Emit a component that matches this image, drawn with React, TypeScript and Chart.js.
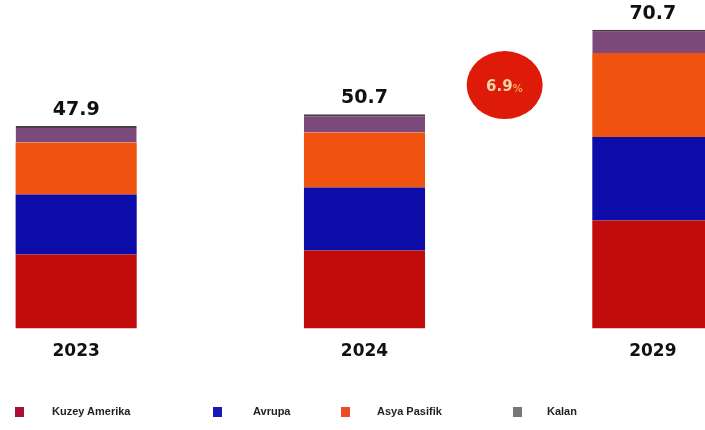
import React, { useEffect, useRef } from "react";
import { Chart, registerables } from "chart.js";

Chart.register(...registerables);

const categories = ["2023", "2024", "2029"];
const kuzeyAmerika = [17.5, 18.5, 25.6];
const avrupa = [14.2, 14.9, 19.7];
const asyaPasifik = [12.3, 13.0, 19.9];
const kalan = [3.9, 4.3, 5.5];
const totals = [47.9, 50.7, 70.7];
const cagrValue = "6.9";
const cagrUnit = "%";

const seriesNames = ["Kuzey Amerika", "Avrupa", "Asya Pasifik", "Kalan"];
const barColors = ["#c20c0c", "#0c0ca8", "#f0530f", "#7c4a7a"];
const legendColors = ["#a8103c", "#1818b4", "#ea4a2a", "#777777"];

const overlayPlugin = {
  id: "overlay",
  afterDatasetsDraw(chart: any) {
    const ctx = chart.ctx;
    const xScale = chart.scales.x;
    const yScale = chart.scales.y;
    const lastMeta = chart.getDatasetMeta(chart.data.datasets.length - 1);
    ctx.save();
    ctx.fillStyle = "#111111";
    ctx.font = "bold 19px 'DejaVu Sans'";
    ctx.textAlign = "center";
    ctx.textBaseline = "alphabetic";
    lastMeta.data.forEach((bar: any, i: number) => {
      ctx.fillText(totals[i].toFixed(1), bar.x, bar.y - 11);
    });
    // CAGR bubble between the 2nd and 3rd category
    const cx = (xScale.getPixelForValue(1) + xScale.getPixelForValue(2)) / 2 - 4;
    const cy = yScale.getPixelForValue(57.6);
    ctx.beginPath();
    ctx.ellipse(cx, cy, 38, 34, 0, 0, Math.PI * 2);
    ctx.fillStyle = "#de1a08";
    ctx.fill();
    ctx.textBaseline = "middle";
    ctx.font = "bold 15px 'DejaVu Sans'";
    ctx.fillStyle = "#f6d2a8";
    ctx.textAlign = "right";
    ctx.fillText(cagrValue, cx + 8, cy + 2);
    ctx.font = "bold 10px 'DejaVu Sans'";
    ctx.fillStyle = "#f2a050";
    ctx.textAlign = "left";
    ctx.fillText(cagrUnit, cx + 8, cy + 4);
    ctx.restore();
  },
};

export default function App() {
  const canvasRef = useRef<HTMLCanvasElement | null>(null);

  useEffect(() => {
    if (!canvasRef.current) return;
    const seriesData = [kuzeyAmerika, avrupa, asyaPasifik, kalan];
    const chart = new Chart(canvasRef.current, {
      type: "bar",
      data: {
        labels: categories,
        datasets: seriesData.map((d, i) => ({
          label: seriesNames[i],
          data: d,
          backgroundColor: barColors[i],
          borderColor: i === 3 ? "#4a3c4a" : barColors[i],
          borderWidth: i === 3 ? { top: 2, left: 0, right: 0, bottom: 0 } : 0,
          borderSkipped: false,
          categoryPercentage: 1,
          barPercentage: 0.42,
        })),
      },
      options: {
        animation: false,
        responsive: false,
        maintainAspectRatio: false,
        layout: { padding: { top: 20, bottom: 63, left: 0, right: 0 } },
        plugins: {
          legend: { display: false },
          tooltip: { enabled: false },
        },
        scales: {
          x: {
            stacked: true,
            grid: { display: false },
            border: { display: false },
            ticks: {
              padding: 5,
              color: "#111111",
              font: { family: "'DejaVu Sans'", size: 17, weight: "bold" },
            },
          },
          y: {
            stacked: true,
            display: false,
            min: 0,
            max: 73,
          },
        },
      },
      plugins: [overlayPlugin],
    });
    return () => chart.destroy();
  }, []);

  const legendPos = [
    { sq: 15, tx: 52 },
    { sq: 213, tx: 253 },
    { sq: 341, tx: 377 },
    { sq: 513, tx: 547 },
  ];

  return (
    <div
      style={{
        position: "fixed",
        left: 0,
        top: 0,
        width: 705,
        height: 430,
        overflow: "hidden",
        background: "#ffffff",
      }}
    >
      <canvas
        ref={canvasRef}
        width={865}
        height={430}
        style={{ position: "absolute", left: -68, top: 0, width: 865, height: 430 }}
      />
      {seriesNames.map((name, i) => (
        <React.Fragment key={name}>
          <div
            style={{
              position: "absolute",
              left: legendPos[i].sq,
              top: 407,
              width: 9,
              height: 10,
              background: legendColors[i],
            }}
          />
          <div
            style={{
              position: "absolute",
              left: legendPos[i].tx,
              top: 405,
              fontFamily: "'Liberation Sans', Arial, sans-serif",
              fontWeight: "bold",
              fontSize: 11,
              color: "#222222",
              whiteSpace: "nowrap",
            }}
          >
            {name}
          </div>
        </React.Fragment>
      ))}
    </div>
  );
}
